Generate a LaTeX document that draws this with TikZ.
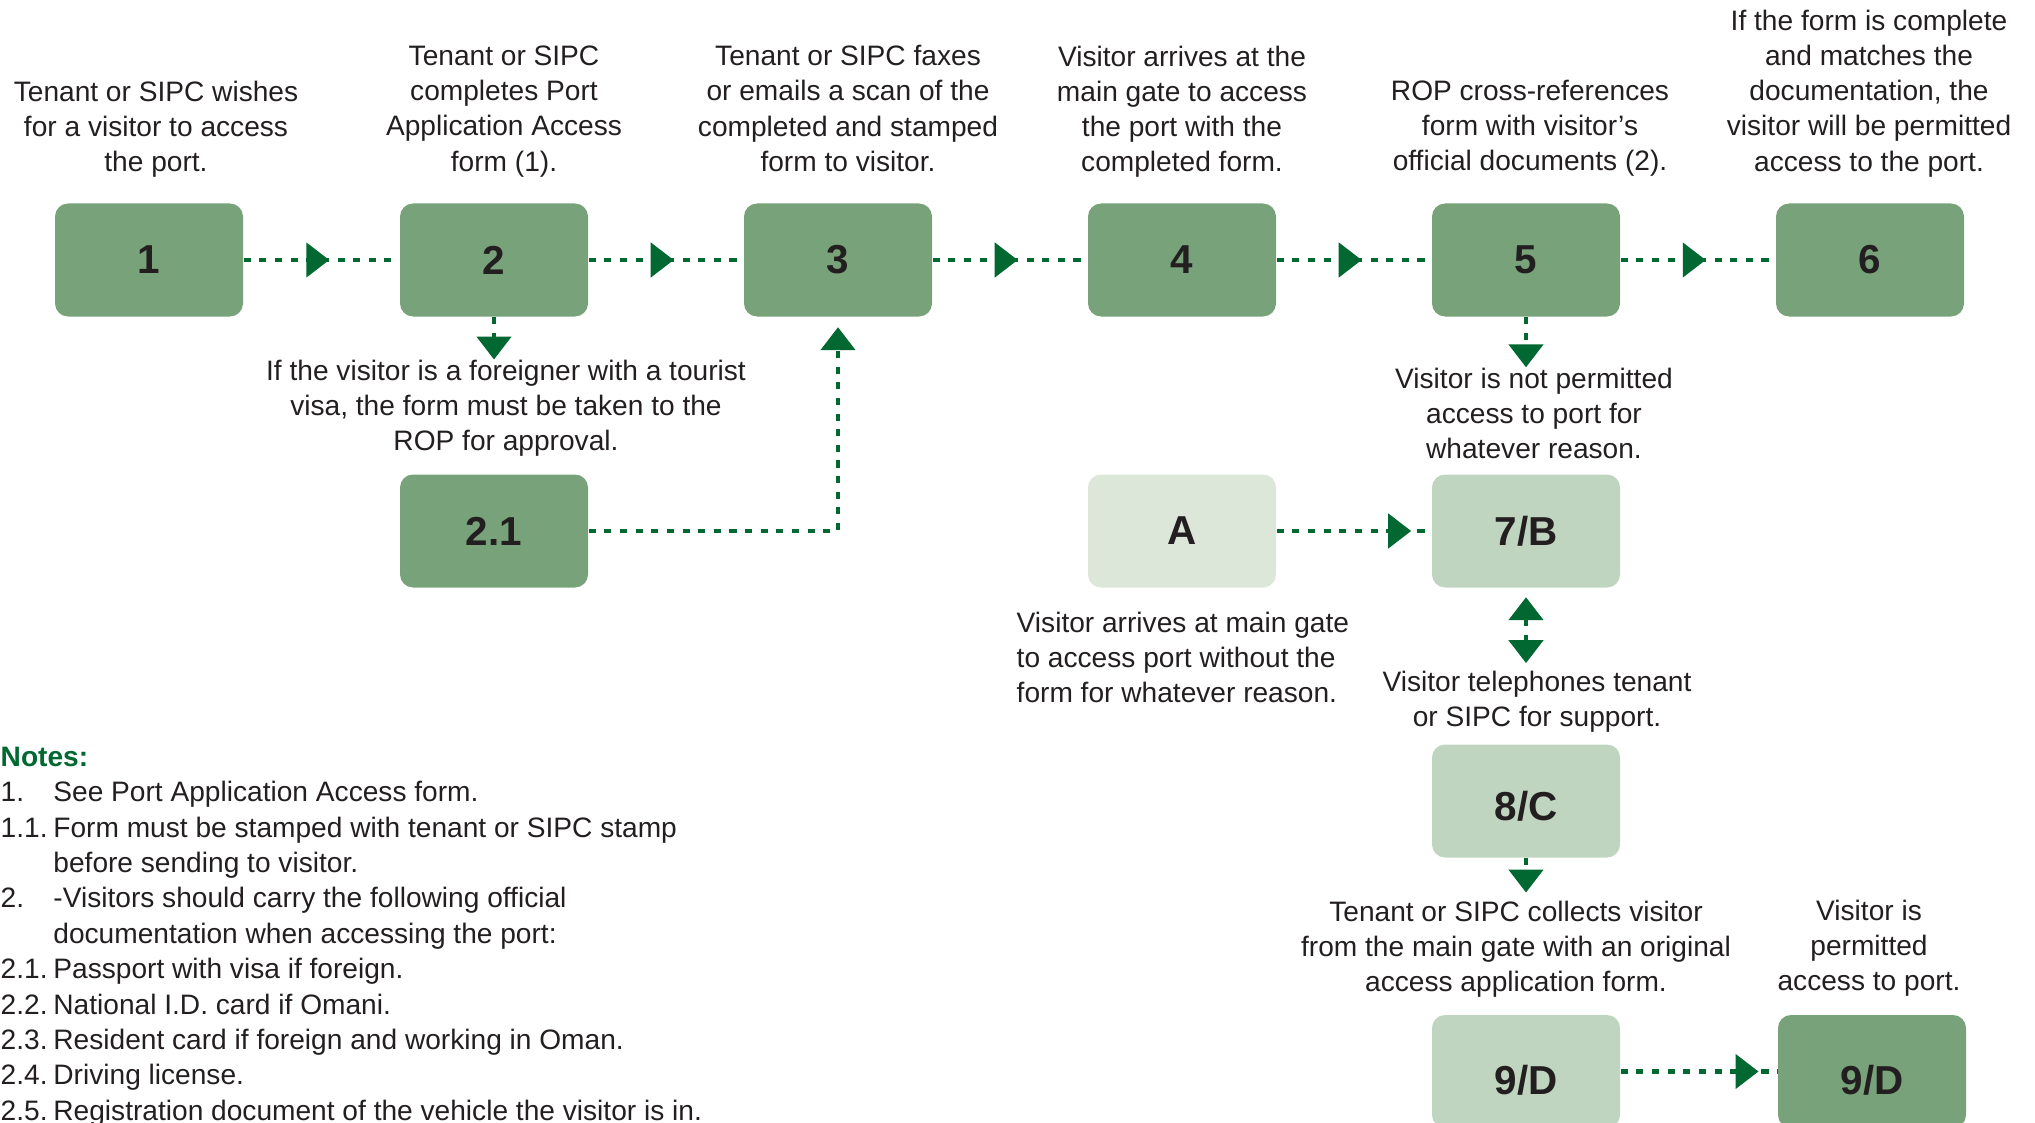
\documentclass[tikz,border=0pt]{standalone}
\usepackage{fontspec}
\setmainfont{Liberation Sans}
\usetikzlibrary{arrows.meta,decorations.markings}

\definecolor{boxgreen}{RGB}{120,163,122}
\definecolor{palegreen}{RGB}{192,213,191}
\definecolor{mistgreen}{RGB}{220,231,218}
\definecolor{linegreen}{RGB}{0,104,48}
\definecolor{inkgray}{RGB}{35,31,32}

\newcommand{\noteno}[1]{\makebox[15pt][l]{#1}}

\begin{document}
\begin{tikzpicture}[
	stagebox/.style={rounded corners=0.13cm, minimum width=1.88cm, minimum height=1.13cm, fill=boxgreen, text=inkgray, font=\fontsize{11.5}{13}\selectfont\bfseries},
	lightbox/.style={stagebox, fill=palegreen},
	palebox/.style={stagebox, fill=mistgreen},
	lowtext/.style={text height=#1, text depth=0.3pt},
	blurb/.style={align=center, inner sep=0pt, text=inkgray, font=\fontsize{8}{10}\selectfont},
	flow/.style={linegreen, line width=1.35pt, dash pattern=on 2pt off 2.45pt},
	endtip/.style={-{Triangle[length=0.23cm,width=0.34cm]}},
	midtip/.style={postaction={decorate}, decoration={markings, mark=at position #1 with {\arrow{Triangle[length=0.23cm,width=0.34cm]}}}}
	]
			\useasboundingbox (0,0) rectangle (20.35,11.22);
			
			% Main row
			\node[stagebox] (s1) at (1.49,8.62) {1};
			\node[stagebox] (s2) at (4.94,8.62) {2};
			\node[stagebox] (s3) at (8.38,8.62) {3};
			\node[stagebox] (s4) at (11.82,8.62) {4};
			\node[stagebox] (s5) at (15.26,8.62) {5};
			\node[stagebox] (s6) at (18.70,8.62) {6};
			
			\node[blurb] (t1) at (1.56,9.925) {Tenant or SIPC wishes\\for a visitor to access\\the port.};
			\node[blurb] (t2) at (5.04,10.105) {Tenant or SIPC\\completes Port\\Application Access\\form (1).};
			\node[blurb] (t3) at (8.48,10.135) {Tenant or SIPC faxes\\or emails a scan of the\\completed and stamped\\form to visitor.};
			\node[blurb] (t4) at (11.82,10.105) {Visitor arrives at the\\main gate to access\\the port with the\\completed form.};
			\node[blurb] (t5) at (15.30,9.935) {ROP cross-references\\form with visitor's\\official documents (2).};
			\node[blurb] (t6) at (18.69,10.285) {If the form is complete\\and matches the\\documentation, the\\visitor will be permitted\\access to the port.};
			
			% Branches
			\node[stagebox] (s21) at (4.94,5.91) {2.1};
			\node[palebox] (sA) at (11.82,5.91) {A};
			\node[lightbox] (s7) at (15.26,5.91) {7/B};
			\node[lightbox, lowtext=11.4pt] (s8) at (15.26,3.21) {8/C};
			\node[lightbox, lowtext=13.1pt] (s9a) at (15.26,0.505) {9/D};
			\node[stagebox, lowtext=13.1pt] (s9b) at (18.72,0.505) {9/D};
			
			\node[blurb] (l2) at (5.06,7.135) {If the visitor is a foreigner with a tourist\\visa, the form must be taken to the\\ROP for approval.};
			\node[blurb] (l5) at (15.34,7.085) {Visitor is not permitted\\access to port for\\whatever reason.};
			\node[blurb, align=left, anchor=west] (lA) at (10.16,4.645) {Visitor arrives at main gate\\to access port without the\\form for whatever reason.};
			\node[blurb] (lB) at (15.37,4.205) {Visitor telephones tenant\\or SIPC for support.};
			\node[blurb] (lC) at (15.16,1.725) {Tenant or SIPC collects visitor\\from the main gate with an original\\access application form.};
			\node[blurb] (lD) at (18.69,1.735) {Visitor is\\permitted\\access to port.};
			
			% Connectors
			\foreach \a/\b in {s1/s2,s2/s3,s3/s4,s4/s5,s5/s6}
				\draw[flow, midtip=0.55] (\a) -- (\b);
			\draw[flow, endtip] (s2.south) -- (s2.south |- l2.north);
			\draw[flow, endtip, shorten >=0.1cm] (s21.east) -| (s3.south);
			\draw[flow, endtip] (s5.south) -- (s5.south |- l5.north);
			\draw[flow, midtip=0.87] (sA) -- (s7);
			\draw[flow, {Triangle[length=0.23cm,width=0.34cm]}-{Triangle[length=0.23cm,width=0.34cm]}, shorten <=0.09cm, shorten >=0.07cm] (s7.south) -- (s7.south |- lB.north);
			\draw[flow, endtip, shorten >=0.08cm] (s8.south) -- (s8.south |- lC.north);
			\draw[flow, midtip=0.88] (s9a) -- (s9b);
			
			% Notes
			\node[anchor=north west, inner sep=0pt, align=left, text=inkgray, font=\fontsize{8}{10.06}\selectfont] (notes) at (0,3.755) {%
				{\color{linegreen}\bfseries Notes:}\\
				\noteno{1.}See Port Application Access form.\\
				\noteno{1.1.}Form must be stamped with tenant or SIPC stamp\\
				\noteno{}before sending to visitor.\\
				\noteno{2.}-Visitors should carry the following official\\
				\noteno{}documentation when accessing the port:\\
				\noteno{2.1.}Passport with visa if foreign.\\
				\noteno{2.2.}National I.D. card if Omani.\\
				\noteno{2.3.}Resident card if foreign and working in Oman.\\
				\noteno{2.4.}Driving license.\\
				\noteno{2.5.}Registration document of the vehicle the visitor is in.};
		\end{tikzpicture}
\end{document}
